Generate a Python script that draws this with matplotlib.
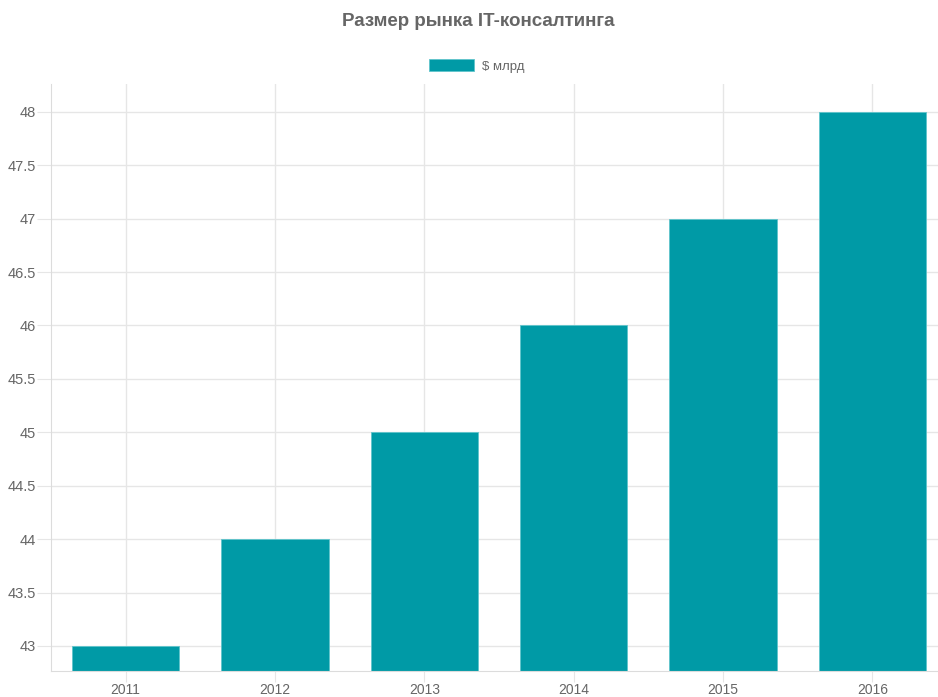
import matplotlib
matplotlib.use('Agg')
import matplotlib.pyplot as plt
from matplotlib.patches import Patch
from matplotlib.ticker import FormatStrFormatter, MultipleLocator

plt.rcParams['font.family'] = ['Liberation Sans', 'DejaVu Sans']

# данные
years = ['2011', '2012', '2013', '2014', '2015', '2016']
market_size = [43, 44, 45, 46, 47, 48]

title = 'Размер рынка IT-консалтинга'
series_label = '$ млрд'

bar_color = '#009aa6'
grid_color = '#e6e6e6'
text_color = '#666666'

W, H = 938, 697
fig = plt.figure(figsize=(W / 100, H / 100), dpi=100)
# область графика, справа обрезана как в исходнике
ax = fig.add_axes([51 / W, (H - 671) / H, (947 - 51) / W, (671 - 84) / H])

x = list(range(len(years)))
ax.bar(x, market_size, width=0.72, color=bar_color, edgecolor='#5fc4cc', linewidth=0.6, zorder=2)

ax.set_xlim(-0.5, len(years) - 0.5)
ax.set_ylim(42.766, 48.26)
ax.set_xticks(x)
ax.set_xticklabels(years)
ax.yaxis.set_major_locator(MultipleLocator(0.5))
ax.yaxis.set_major_formatter(FormatStrFormatter('%g'))

ax.grid(True, color=grid_color, linewidth=1, zorder=0)
ax.set_axisbelow(True)
for side in ['top', 'right']:
    ax.spines[side].set_visible(False)
for side in ['left', 'bottom']:
    ax.spines[side].set_color('#dcdcdc')
ax.tick_params(axis='y', length=10, color=grid_color, labelcolor=text_color, labelsize=10.5, pad=1)
ax.tick_params(axis='x', length=8, color=grid_color, labelcolor=text_color, labelsize=10, pad=1)

fig.text(478 / W, 1 - 22 / H, title, ha='center', va='center',
         fontsize=13.5, fontweight='bold', color=text_color)

handle = Patch(facecolor=bar_color, edgecolor='#5fc4cc', linewidth=0.6)
fig.legend([handle], [series_label], loc='center', bbox_to_anchor=(477 / W, 1 - 66 / H),
           frameon=False, fontsize=9.5, labelcolor=text_color,
           handlelength=3.4, handleheight=0.95, handletextpad=0.6)

fig.savefig('out.png', dpi=100)
